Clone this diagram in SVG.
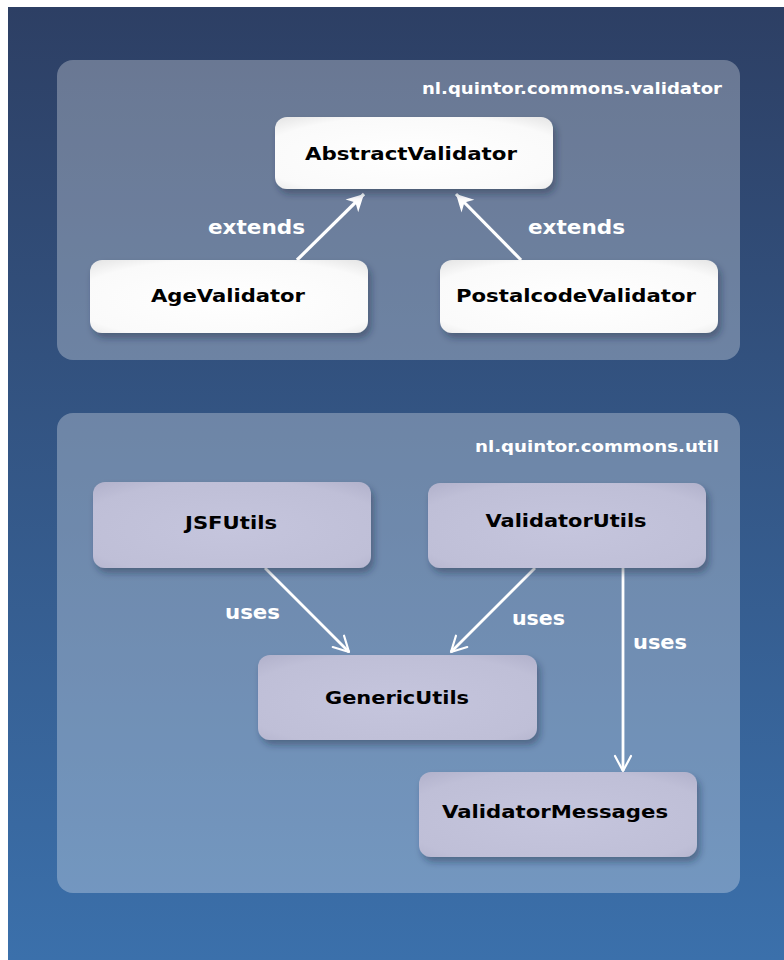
<svg xmlns="http://www.w3.org/2000/svg" width="784" height="960" viewBox="0 0 784 960">
  <defs>
    <linearGradient id="bg" x1="0" y1="0" x2="0" y2="1">
      <stop offset="0" stop-color="#2d3f64"/>
      <stop offset="1" stop-color="#3b70ab"/>
    </linearGradient>
    <radialGradient id="white" cx="0.5" cy="0.55" r="0.75">
      <stop offset="0" stop-color="#ffffff"/>
      <stop offset="0.75" stop-color="#fafafa"/>
      <stop offset="1" stop-color="#e2e2e2"/>
    </radialGradient>
    <radialGradient id="lav" cx="0.5" cy="0.55" r="0.75">
      <stop offset="0" stop-color="#c5c5dd"/>
      <stop offset="0.75" stop-color="#bfbfd7"/>
      <stop offset="1" stop-color="#b0b0ca"/>
    </radialGradient>
    <filter id="shadow" x="-10%" y="-20%" width="130%" height="150%">
      <feDropShadow dx="3" dy="5" stdDeviation="3.5" flood-color="#1a2540" flood-opacity="0.4"/>
    </filter>
    <marker id="ext" viewBox="-18 -11 20 22" markerWidth="20" markerHeight="22" refX="0" refY="0" orient="auto" markerUnits="userSpaceOnUse">
      <path d="M0,0 L-17,-9 L-12,0 L-17,9 Z" fill="#ffffff"/>
    </marker>
    <marker id="use" viewBox="-18 -11 20 22" markerWidth="20" markerHeight="22" refX="0" refY="0" orient="auto" markerUnits="userSpaceOnUse">
      <path d="M-15,-8 L0,0 L-15,8" fill="none" stroke="#ffffff" stroke-width="2.2" stroke-linejoin="round" stroke-linecap="round"/>
    </marker>
    <style>
      .pkg { fill: #ffffff; fill-opacity: 0.29; }
      .pkgLabel { font-family: "DejaVu Sans", Verdana, sans-serif; font-weight: bold; font-size: 15px; fill: #ffffff; text-anchor: end; }
      .nodeW { fill: url(#white); filter: url(#shadow); }
      .nodeL { fill: url(#lav); filter: url(#shadow); }
      .nodeText { font-family: "DejaVu Sans", Verdana, sans-serif; font-weight: bold; font-size: 18px; fill: #000000; text-anchor: middle; }
      .edgeLabel { font-family: "DejaVu Sans", Verdana, sans-serif; font-weight: bold; font-size: 19px; fill: #ffffff; }
      .ext { stroke: #ffffff; stroke-width: 3.2; fill: none; marker-end: url(#ext); }
      .uses { stroke: #ffffff; stroke-width: 2.8; fill: none; marker-end: url(#use); }
    </style>
  </defs>

  <rect x="0" y="0" width="784" height="960" fill="#ffffff"/>
  <rect x="8" y="7" width="776" height="953" fill="url(#bg)"/>

  <g id="pkg-validator">
    <rect class="pkg" x="57" y="60" width="683" height="300" rx="16"/>
    <text class="pkgLabel" x="722" y="94" textLength="300" lengthAdjust="spacingAndGlyphs">nl.quintor.commons.validator</text>
  </g>
  <g id="pkg-util">
    <rect class="pkg" x="57" y="413" width="683" height="480" rx="16"/>
    <text class="pkgLabel" x="719" y="452" textLength="244" lengthAdjust="spacingAndGlyphs">nl.quintor.commons.util</text>
  </g>

  <g id="connectors">
    <path class="ext" d="M297,260 L364,194"/>
    <path class="ext" d="M521,260 L456,194"/>
    <path class="uses" d="M265,568 L349,652"/>
    <path class="uses" d="M535,568 L451,652"/>
    <path class="uses" d="M623,568 L623,771"/>
    <text class="edgeLabel" x="208" y="234" textLength="97" lengthAdjust="spacingAndGlyphs">extends</text>
    <text class="edgeLabel" x="528" y="234" textLength="97" lengthAdjust="spacingAndGlyphs">extends</text>
    <text class="edgeLabel" x="225" y="619" textLength="55" lengthAdjust="spacingAndGlyphs">uses</text>
    <text class="edgeLabel" x="512" y="625" textLength="53" lengthAdjust="spacingAndGlyphs">uses</text>
    <text class="edgeLabel" x="633" y="649" textLength="54" lengthAdjust="spacingAndGlyphs">uses</text>
  </g>

  <g id="node-AbstractValidator">
    <rect class="nodeW" x="275" y="117" width="278" height="72" rx="12"/>
    <text class="nodeText" x="411" y="160" textLength="212" lengthAdjust="spacingAndGlyphs">AbstractValidator</text>
  </g>
  <g id="node-AgeValidator">
    <rect class="nodeW" x="90" y="260" width="278" height="73" rx="12"/>
    <text class="nodeText" x="228" y="302" textLength="154" lengthAdjust="spacingAndGlyphs">AgeValidator</text>
  </g>
  <g id="node-PostalcodeValidator">
    <rect class="nodeW" x="440" y="260" width="278" height="73" rx="12"/>
    <text class="nodeText" x="576" y="302" textLength="240" lengthAdjust="spacingAndGlyphs">PostalcodeValidator</text>
  </g>
  <g id="node-JSFUtils">
    <rect class="nodeL" x="93" y="482" width="278" height="86" rx="12"/>
    <text class="nodeText" x="231" y="529" textLength="92" lengthAdjust="spacingAndGlyphs">JSFUtils</text>
  </g>
  <g id="node-ValidatorUtils">
    <rect class="nodeL" x="428" y="483" width="278" height="85" rx="12"/>
    <text class="nodeText" x="566" y="527" textLength="161" lengthAdjust="spacingAndGlyphs">ValidatorUtils</text>
  </g>
  <g id="node-GenericUtils">
    <rect class="nodeL" x="258" y="655" width="279" height="85" rx="12"/>
    <text class="nodeText" x="397" y="704" textLength="144" lengthAdjust="spacingAndGlyphs">GenericUtils</text>
  </g>
  <g id="node-ValidatorMessages">
    <rect class="nodeL" x="419" y="772" width="278" height="85" rx="12"/>
    <text class="nodeText" x="555" y="818" textLength="226" lengthAdjust="spacingAndGlyphs">ValidatorMessages</text>
  </g>
</svg>
